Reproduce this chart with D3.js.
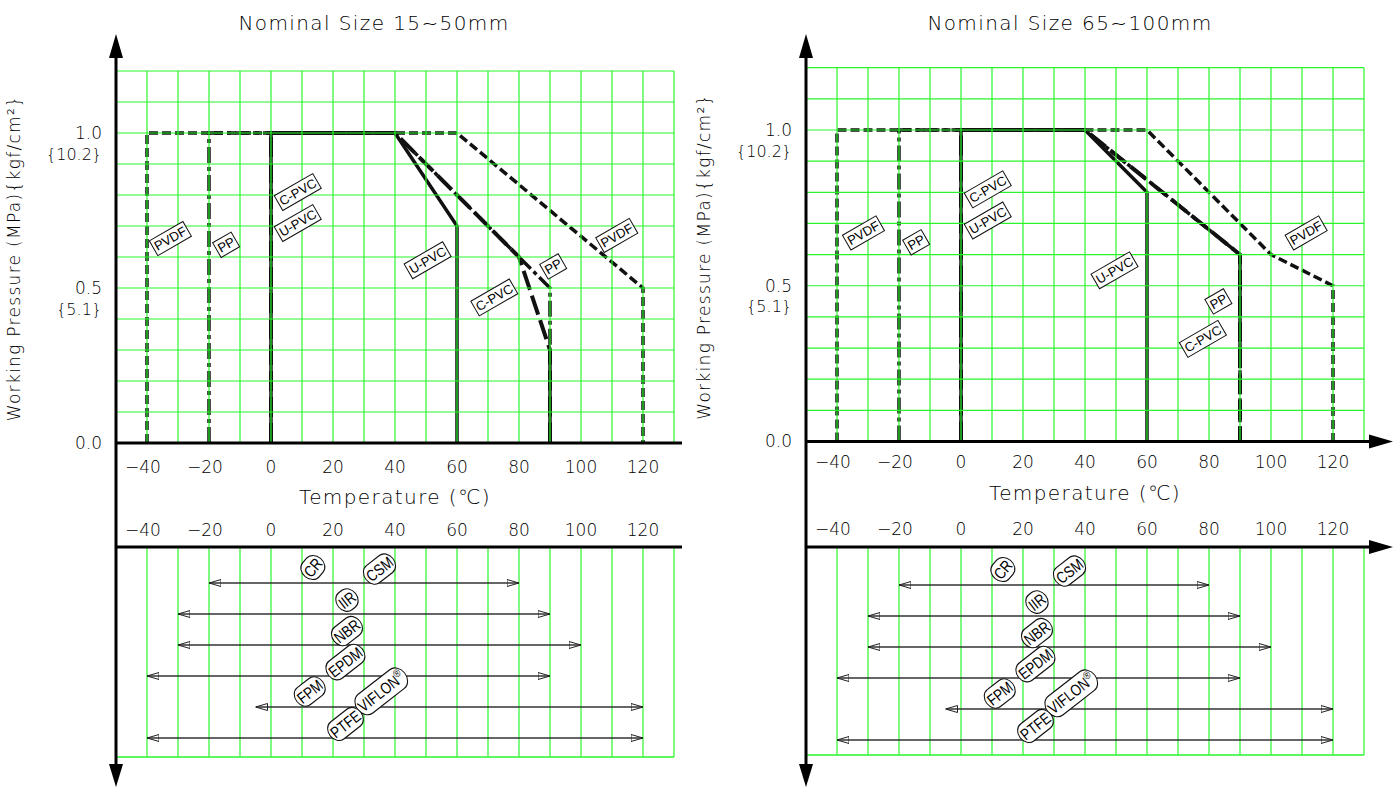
<!DOCTYPE html>
<html>
<head>
<meta charset="utf-8">
<script src="https://cdn.jsdelivr.net/npm/d3@7"></script>
<style>
  body { margin: 0; background: #fff; }
  svg text { font-family: "DejaVu Sans", sans-serif; font-weight: 200; fill: #000; }
  svg text.tagtext { font-family: "Liberation Sans", sans-serif; font-weight: normal; }
</style>
</head>
<body>
<script>
// ---- data ----
const tempTicks = [-40, -20, 0, 20, 40, 60, 80, 100, 120];
const pressureTicks = [0.0, 0.5, 1.0];
const pressureLabels = ["0.0", "0.5", "1.0"];
const kgfLabels = ["", "{5.1}", "{10.2}"];

const seriesNames = ["PVDF", "PP", "C-PVC", "U-PVC"];
// nominal size 15~50mm : [temperature, MPa]
const smallPVDF = [[-40, 0], [-40, 1], [60, 1], [120, 0.5], [120, 0]];
const smallPP = [[-20, 0], [-20, 1], [40, 1], [90, 0.5], [90, 0]];
const smallCPVC = [[0, 0], [0, 1], [40, 1], [80, 0.6], [90, 0.3], [90, 0]];
const smallUPVC = [[0, 0], [0, 1], [40, 1], [60, 0.7], [60, 0]];
// nominal size 65~100mm
const largePVDF = [[-40, 0], [-40, 1], [60, 1], [100, 0.6], [120, 0.5], [120, 0]];
const largePP = [[-20, 0], [-20, 1], [40, 1], [90, 0.6], [90, 0]];
const largeCPVC = [[0, 0], [0, 1], [40, 1], [90, 0.6], [90, 0]];
const largeUPVC = [[0, 0], [0, 1], [40, 1], [60, 0.8], [60, 0]];

// curve tags (temperature, MPa)
const smallTags = [["PVDF", -32.5, 0.66], ["PP", -14.5, 0.64], ["C-PVC", 8.6, 0.81], ["U-PVC", 8.6, 0.71],
                   ["U-PVC", 50.5, 0.59], ["C-PVC", 72, 0.47], ["PP", 91, 0.57], ["PVDF", 111.5, 0.67]];
const largeTags = [["PVDF", -31.5, 0.67], ["PP", -14.5, 0.64], ["C-PVC", 8.6, 0.81], ["U-PVC", 8.6, 0.71],
                   ["U-PVC", 49.5, 0.55], ["PVDF", 111.3, 0.67], ["PP", 83, 0.45], ["C-PVC", 78, 0.33]];

// seal materials temperature range
const sealMin = [-20, -30, -30, -40, -5, -40];
const sealMax = [80, 90, 100, 90, 120, 120];
// seal tags: name, temperature, row
const sealTags = [["CR", 13.5, -0.5], ["CSM", 35, -0.45], ["IIR", 24.5, 0.55], ["NBR", 24.5, 1.55],
                  ["EPDM", 24, 2.55], ["FPM", 12.5, 3.5], ["VIFLON", 35.5, 3.5], ["PTFE", 24, 4.55]];

const svg = d3.select("body").append("svg").attr("width", 1393).attr("height", 788);

const defs = svg.append("defs");
defs.append("marker").attr("id", "openArrow")
  .attr("viewBox", "0 0 12 8").attr("refX", 12).attr("refY", 4)
  .attr("markerWidth", 12).attr("markerHeight", 8)
  .attr("markerUnits", "userSpaceOnUse").attr("orient", "auto-start-reverse")
  .append("path").attr("d", "M0,0.5 L12,4 L0,7.5 Z")
  .attr("fill", "none").attr("stroke", "#222").attr("stroke-width", 1);

const lineStyles = {
  "PVDF": "9,4",
  "PP": "16,4,4,4",
  "C-PVC": "20,6",
  "U-PVC": null
};

function drawChart(cfg, series, tags){
  const g = svg.append("g");
  const x = d3.scaleLinear().domain([-50, 130]).range([cfg.left, cfg.left + 558]);
  const y = d3.scaleLinear().domain([0, 1]).range([cfg.zero, cfg.one]);
  const row = d3.scaleLinear().domain([0, 1]).range([cfg.rowBase, cfg.rowBase + 31]);
  const gridTemps = d3.range(-40, 131, 10);
  const gridPress = d3.range(1, 13).map(d => d / 10);

  // title
  g.append("text").text(cfg.title)
    .attr("x", cfg.titleX).attr("y", 30)
    .attr("text-anchor", "middle").attr("font-size", 20).style("letter-spacing", "1.4px");

  // curves
  const line = d3.line().x(d => x(d[0])).y(d => y(d[1]));
  g.selectAll("path.curve").data(series).enter().append("path")
    .attr("class", "curve")
    .attr("d", (d) => line(d.pts))
    .attr("fill", "none")
    .attr("stroke", "#111")
    .attr("stroke-width", d => d.name == "C-PVC" ? 4 : 3.5)
    .attr("stroke-dasharray", d => lineStyles[d.name]);

  // green grid (upper)
  g.selectAll("line.vg").data(gridTemps).enter().append("line")
    .attr("x1", d => x(d)).attr("x2", d => x(d))
    .attr("y1", y(1.2)).attr("y2", y(0))
    .attr("stroke", "#2af52a").attr("stroke-width", 1.2);
  g.selectAll("line.hg").data(gridPress).enter().append("line")
    .attr("x1", x(-50)).attr("x2", x(130))
    .attr("y1", d => y(d)).attr("y2", d => y(d))
    .attr("stroke", "#2af52a").attr("stroke-width", 1.2);

  // green grid (lower)
  g.selectAll("line.vg2").data(gridTemps).enter().append("line")
    .attr("x1", d => x(d)).attr("x2", d => x(d))
    .attr("y1", cfg.lower).attr("y2", cfg.bottom)
    .attr("stroke", "#2af52a").attr("stroke-width", 1.2);
  g.append("line").attr("x1", x(-50)).attr("x2", x(130))
    .attr("y1", cfg.bottom).attr("y2", cfg.bottom)
    .attr("stroke", "#2af52a").attr("stroke-width", 1.5);

  // tags on the curves
  const tg = g.selectAll("g.tag").data(tags).enter().append("g")
    .attr("transform", d => "translate(" + x(d[1]) + "," + y(d[2]) + ") rotate(-30)");
  tg.append("text").attr("class", "tagtext").text(d => d[0])
    .attr("text-anchor", "middle").attr("dy", "0.36em").attr("font-size", 13)
    .each(function(){
      const b = this.getBBox();
      d3.select(this.parentNode).insert("rect", "text")
        .attr("x", b.x - 2).attr("y", b.y - 1)
        .attr("width", b.width + 4).attr("height", b.height + 2)
        .attr("fill", "#fff").attr("stroke", "#111").attr("stroke-width", 1);
    });

  // seal range arrows
  g.selectAll("line.seal").data(sealMin).enter().append("line")
    .attr("x1", d => x(d)).attr("x2", (d, i) => x(sealMax[i]))
    .attr("y1", (d, i) => row(i)).attr("y2", (d, i) => row(i))
    .attr("stroke", "#333").attr("stroke-width", 1.4)
    .attr("marker-start", "url(#openArrow)").attr("marker-end", "url(#openArrow)");

  const sg = g.selectAll("g.seal").data(sealTags).enter().append("g")
    .attr("transform", d => "translate(" + x(d[1]) + "," + row(d[2]) + ") rotate(" + (d[0] == "CR" ? -50 : -38) + ") scale(0.82,1)");
  sg.append("text").attr("class", "tagtext")
    .attr("text-anchor", "middle").attr("dy", "0.36em").attr("font-size", 16)
    .each(function(d){
      const t = d3.select(this);
      t.append("tspan").text(d[0]);
      if (d[0] == "VIFLON") t.append("tspan").text("®").attr("font-size", 11).attr("dy", "-0.6em");
      const b = this.getBBox();
      d3.select(this.parentNode).insert("rect", "text")
        .attr("x", b.x - 3).attr("y", -b.height / 2 - 2)
        .attr("width", b.width + 6).attr("height", b.height + 4)
        .attr("rx", (b.height + 4) / 2)
        .attr("fill", "#fff").attr("stroke", "#111").attr("stroke-width", 1.2);
    });

  // axes
  const axisEnd = cfg.arrows ? 1393 : x(130) + 8;
  const ink = "#000";
  g.append("line").attr("x1", cfg.left).attr("x2", cfg.left)
    .attr("y1", 50).attr("y2", 770).attr("stroke", ink).attr("stroke-width", 3);
  g.append("path").attr("d", `M${cfg.left},34 L${cfg.left - 7},58 L${cfg.left + 7},58 Z`).attr("fill", ink);
  g.append("path").attr("d", `M${cfg.left},787 L${cfg.left - 7},764 L${cfg.left + 7},764 Z`).attr("fill", ink);
  [y(0), cfg.lower].forEach(yy => {
    g.append("line").attr("x1", cfg.left).attr("x2", cfg.arrows ? axisEnd - 16 : axisEnd)
      .attr("y1", yy).attr("y2", yy).attr("stroke", ink).attr("stroke-width", 3);
    if (cfg.arrows) {
      g.append("path").attr("d", `M${axisEnd},${yy} L${axisEnd - 24},${yy - 7} L${axisEnd - 24},${yy + 7} Z`).attr("fill", ink);
    }
  });

  // y tick labels
  g.selectAll("text.yt").data(pressureTicks).enter().append("text")
    .text((d, i) => pressureLabels[i])
    .attr("x", cfg.left - 14).attr("y", d => y(d)).attr("dy", "0.35em")
    .attr("text-anchor", "end").attr("font-size", 17);
  g.selectAll("text.yk").data(pressureTicks).enter().append("text")
    .text((d, i) => kgfLabels[i])
    .attr("x", cfg.left - 14).attr("y", d => y(d) + 21).attr("dy", "0.35em")
    .attr("text-anchor", "end").attr("font-size", 16);

  // y axis title
  g.append("text").text("Working Pressure (MPa){kgf/cm²}")
    .attr("transform", "translate(" + (cfg.left - 96) + "," + (cfg.zero - 185) + ") rotate(-90)")
    .attr("text-anchor", "middle").attr("font-size", 17).style("letter-spacing", "1.3px");

  // x tick labels, upper and lower
  [cfg.tickY1, cfg.tickY2].forEach(ty => {
    g.selectAll(null).data(tempTicks).enter().append("text")
      .text(d => d < 0 ? "\u2212" + Math.abs(d) : d)
      .attr("x", d => x(d) + (d < 0 ? -4 : 0)).attr("y", ty).attr("dy", "0.35em")
      .attr("text-anchor", "middle").attr("font-size", 17);
  });
  g.append("text").text("Temperature (\u2103)")
    .attr("x", x(40)).attr("y", cfg.tempY).attr("dy", "0.35em")
    .attr("text-anchor", "middle").attr("font-size", 20).style("letter-spacing", "1.4px");
}

drawChart({
  title: "Nominal Size  15~50mm", titleX: 374,
  left: 116, zero: 443, one: 133, lower: 547, rowBase: 583, bottom: 757,
  tickY1: 467, tickY2: 530, tempY: 497, arrows: false
}, [
  {name: "PVDF", pts: smallPVDF}, {name: "PP", pts: smallPP},
  {name: "C-PVC", pts: smallCPVC}, {name: "U-PVC", pts: smallUPVC}
], smallTags);

drawChart({
  title: "Nominal Size  65~100mm", titleX: 1070,
  left: 806, zero: 441.5, one: 130, lower: 547, rowBase: 585, bottom: 755,
  tickY1: 462, tickY2: 529, tempY: 493, arrows: true
}, [
  {name: "PVDF", pts: largePVDF}, {name: "PP", pts: largePP},
  {name: "C-PVC", pts: largeCPVC}, {name: "U-PVC", pts: largeUPVC}
], largeTags);
</script>
</body>
</html>
